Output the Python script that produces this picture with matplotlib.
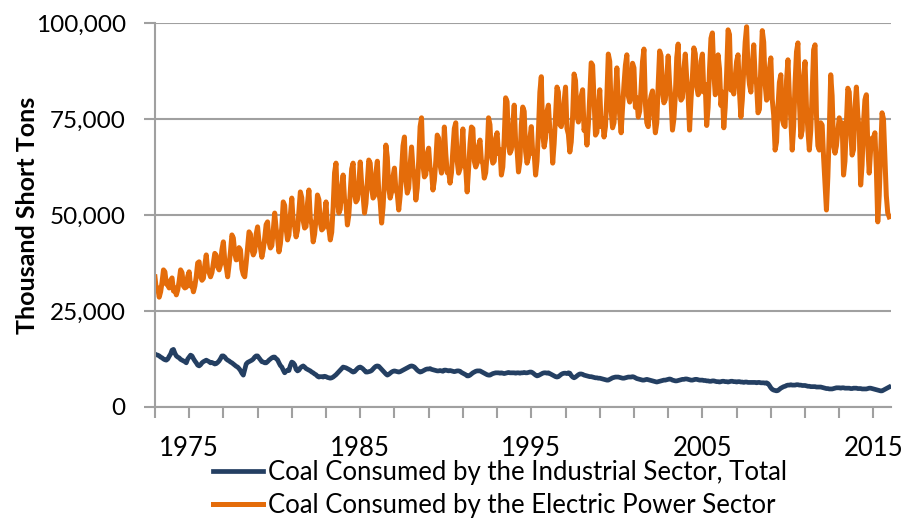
import matplotlib
matplotlib.use("Agg")
import matplotlib.pyplot as plt
from matplotlib.ticker import FuncFormatter

plt.rcParams['font.family'] = ['Lato', 'DejaVu Sans']

first_year = 1973
last_year = 2015

# monthly values, thousand short tons / 1000 (one row per year, Jan..Dec)
electric_power = [
    [33.9, 30.5, 31.0, 28.6, 30.0, 32.5, 35.7, 35.2, 32.0, 31.8, 31.0, 33.0],  # 1973
    [33.6, 30.2, 31.0, 29.2, 30.5, 32.8, 35.7, 35.0, 31.5, 31.0, 31.2, 34.0],
    [35.2, 31.5, 32.0, 30.0, 31.5, 34.0, 37.5, 37.8, 34.0, 33.0, 33.5, 37.0],
    [39.6, 35.5, 35.0, 33.9, 35.0, 37.5, 40.0, 39.5, 36.5, 35.7, 37.0, 41.0],
    [43.0, 38.0, 36.5, 33.9, 37.0, 40.5, 44.8, 44.0, 40.0, 38.3, 38.5, 41.5],
    [40.9, 36.0, 34.5, 33.9, 37.5, 41.5, 45.6, 45.0, 41.0, 39.6, 40.5, 45.0],
    [46.9, 43.0, 41.5, 39.0, 41.0, 44.0, 47.5, 48.2, 43.0, 41.4, 42.0, 46.0],
    [50.5, 46.5, 44.0, 40.4, 42.5, 47.0, 53.4, 52.5, 46.5, 43.5, 44.8, 50.0],  # 1980
    [54.4, 48.0, 47.0, 44.3, 46.0, 51.0, 56.0, 54.5, 48.5, 46.6, 47.0, 53.0],
    [56.5, 49.0, 47.5, 43.0, 45.0, 49.0, 55.2, 54.0, 48.0, 46.1, 46.5, 50.0],
    [53.4, 47.0, 46.5, 43.5, 45.5, 52.0, 61.0, 63.5, 54.0, 50.5, 51.5, 57.5],
    [60.4, 54.0, 53.0, 47.4, 50.0, 56.0, 62.0, 63.5, 55.5, 53.4, 54.0, 58.0],
    [63.8, 58.0, 55.0, 50.5, 53.0, 58.5, 64.3, 63.5, 57.0, 54.4, 55.0, 61.0],
    [64.0, 56.0, 53.5, 47.9, 52.0, 59.0, 68.2, 65.0, 57.0, 54.4, 56.0, 60.0],
    [62.2, 56.5, 55.5, 51.3, 55.0, 61.5, 68.0, 70.3, 59.0, 55.7, 57.0, 63.0],
    [67.7, 62.0, 60.0, 53.9, 57.0, 64.0, 73.0, 75.3, 63.0, 59.9, 60.5, 66.0],
    [67.4, 62.0, 61.5, 56.5, 59.0, 64.0, 70.8, 70.0, 63.0, 60.9, 63.0, 72.9],
    [66.0, 61.0, 61.5, 58.3, 61.0, 67.0, 72.5, 74.0, 64.0, 60.9, 62.0, 67.0],  # 1990
    [72.4, 63.0, 62.0, 56.0, 62.0, 68.5, 72.9, 72.5, 64.0, 62.5, 63.5, 68.0],
    [69.5, 64.0, 63.5, 59.6, 61.0, 66.0, 75.3, 73.5, 65.5, 63.5, 64.0, 70.0],
    [71.4, 66.0, 67.0, 60.4, 62.5, 70.0, 80.5, 79.5, 68.5, 66.1, 67.0, 73.5],
    [78.6, 69.0, 67.0, 61.2, 64.0, 73.5, 78.1, 77.0, 66.5, 63.5, 65.0, 70.0],
    [73.0, 66.0, 66.0, 60.4, 64.0, 72.0, 82.0, 86.0, 71.0, 67.7, 70.0, 77.0],
    [78.6, 72.0, 71.5, 63.5, 68.5, 76.0, 83.3, 82.0, 73.5, 73.0, 75.0, 79.5],
    [83.3, 72.5, 71.0, 66.4, 69.0, 76.0, 86.7, 85.0, 76.0, 74.2, 76.0, 81.0],
    [82.6, 72.0, 74.0, 68.2, 73.5, 81.0, 89.6, 89.0, 80.0, 70.8, 71.5, 77.0],
    [82.6, 73.0, 75.0, 70.3, 73.0, 81.0, 91.9, 90.0, 77.0, 72.7, 74.0, 81.0],
    [88.3, 80.5, 76.0, 71.4, 78.0, 84.0, 89.0, 91.7, 81.0, 79.4, 81.0, 89.5],  # 2000
    [88.3, 78.0, 80.5, 75.5, 77.0, 83.0, 90.0, 93.2, 79.0, 74.0, 73.0, 79.0],
    [81.0, 82.3, 76.0, 71.4, 74.0, 84.0, 92.7, 91.5, 82.0, 79.2, 80.0, 86.0],
    [91.4, 84.0, 80.0, 72.1, 75.0, 81.0, 91.0, 94.5, 82.0, 79.9, 80.5, 88.0],
    [91.9, 85.5, 81.0, 72.1, 80.0, 86.0, 93.5, 92.0, 83.5, 81.3, 82.0, 90.0],
    [91.9, 82.0, 84.0, 73.3, 78.0, 88.0, 96.0, 97.4, 87.0, 81.3, 82.0, 91.7],
    [88.0, 78.5, 82.0, 72.7, 78.0, 87.0, 98.2, 97.0, 82.5, 83.0, 81.5, 86.0],
    [90.0, 91.7, 82.0, 75.5, 80.0, 88.0, 95.0, 99.0, 88.0, 84.0, 82.0, 89.0],
    [94.3, 86.0, 84.0, 76.6, 77.5, 89.0, 98.0, 95.0, 84.0, 79.9, 80.5, 88.0],
    [90.9, 80.0, 76.0, 66.9, 69.0, 78.0, 84.5, 86.5, 75.0, 73.5, 73.0, 85.0],
    [90.4, 81.0, 75.0, 66.9, 73.0, 84.5, 92.5, 94.8, 80.0, 70.3, 72.0, 86.0],  # 2010
    [89.9, 78.0, 72.0, 66.9, 72.0, 82.0, 93.0, 94.3, 76.0, 68.0, 66.9, 74.0],
    [73.4, 65.0, 58.0, 51.3, 60.0, 72.0, 86.5, 81.0, 68.0, 66.1, 68.0, 72.0],
    [75.3, 72.0, 74.0, 60.4, 64.0, 74.0, 83.0, 82.0, 72.0, 65.6, 67.0, 78.0],
    [83.3, 76.0, 72.0, 57.8, 63.0, 74.0, 80.0, 81.3, 68.0, 60.9, 67.0, 70.0],
    [70.0, 71.4, 62.0, 48.2, 55.0, 66.0, 76.6, 75.0, 65.0, 55.0, 50.5, 49.5],  # 2015
]

industrial = [
    [13.8, 13.6, 13.5, 13.3, 13.0, 12.8, 12.5, 12.3, 12.2, 12.5, 13.2, 13.8],  # 1973
    [14.8, 15.0, 14.0, 13.3, 13.0, 12.8, 12.4, 12.2, 12.0, 11.8, 11.5, 12.5],
    [13.0, 13.5, 13.3, 12.6, 12.0, 11.5, 10.9, 10.7, 11.0, 11.5, 11.8, 12.0],
    [12.2, 12.0, 11.8, 11.5, 11.6, 11.4, 11.2, 11.3, 11.6, 12.0, 12.6, 13.3],
    [13.3, 13.0, 12.5, 12.2, 12.0, 11.7, 11.5, 11.2, 10.9, 10.6, 10.4, 10.0],
    [9.5, 8.8, 8.3, 9.8, 11.2, 11.6, 11.8, 12.0, 12.2, 12.5, 13.0, 13.3],
    [13.3, 12.8, 12.3, 11.8, 11.7, 11.5, 11.5, 11.8, 12.2, 12.5, 12.8, 13.0],
    [13.0, 12.6, 12.3, 11.5, 10.8, 10.4, 9.6, 8.9, 9.3, 9.6, 9.5, 10.8],  # 1980
    [11.7, 11.5, 11.0, 9.8, 9.4, 9.6, 10.2, 10.5, 10.7, 10.4, 10.0, 9.8],
    [9.6, 9.4, 9.1, 8.9, 8.6, 8.4, 8.0, 7.8, 7.9, 7.9, 7.8, 8.0],
    [7.9, 7.7, 7.6, 7.5, 7.6, 7.8, 8.1, 8.4, 8.8, 9.2, 9.6, 10.0],
    [10.4, 10.3, 10.2, 10.0, 9.8, 9.6, 9.3, 9.1, 9.2, 9.6, 10.0, 10.3],
    [10.4, 10.2, 9.9, 9.5, 9.1, 9.1, 9.2, 9.3, 9.5, 9.9, 10.3, 10.6],
    [10.7, 10.6, 10.2, 9.8, 9.4, 9.0, 8.6, 8.3, 8.5, 8.8, 9.1, 9.3],
    [9.4, 9.3, 9.2, 9.1, 9.2, 9.4, 9.6, 9.8, 10.0, 10.2, 10.4, 10.6],
    [10.7, 10.6, 10.4, 10.0, 9.6, 9.3, 9.1, 9.2, 9.4, 9.6, 9.8, 9.9],
    [9.9, 10.0, 9.8, 9.7, 9.6, 9.5, 9.4, 9.4, 9.5, 9.4, 9.3, 9.6],
    [9.6, 9.5, 9.4, 9.5, 9.4, 9.3, 9.2, 9.3, 9.4, 9.4, 9.3, 9.0],  # 1990
    [8.8, 8.6, 8.4, 8.1, 8.1, 8.3, 8.6, 8.9, 9.1, 9.3, 9.4, 9.4],
    [9.4, 9.2, 9.0, 8.8, 8.6, 8.4, 8.3, 8.3, 8.5, 8.7, 8.8, 8.9],
    [8.9, 8.9, 8.8, 8.9, 8.8, 8.7, 8.8, 8.9, 9.0, 8.9, 8.9, 8.9],
    [8.9, 8.8, 8.9, 8.9, 8.8, 8.9, 8.9, 9.0, 8.9, 8.9, 9.0, 9.1],
    [9.1, 8.9, 8.6, 8.3, 8.1, 8.2, 8.4, 8.6, 8.8, 8.9, 8.9, 8.8],
    [8.9, 8.7, 8.5, 8.3, 8.1, 7.9, 7.8, 7.9, 8.2, 8.5, 8.7, 8.8],
    [8.8, 8.7, 8.9, 8.8, 8.2, 7.8, 7.6, 7.8, 8.1, 8.4, 8.6, 8.6],
    [8.5, 8.3, 8.2, 8.1, 8.0, 7.9, 7.9, 7.8, 7.7, 7.6, 7.6, 7.5],
    [7.5, 7.4, 7.3, 7.2, 7.1, 7.0, 7.0, 7.2, 7.4, 7.6, 7.7, 7.8],
    [7.8, 7.8, 7.7, 7.6, 7.5, 7.5, 7.6, 7.7, 7.8, 7.8, 7.8, 7.9],  # 2000
    [7.8, 7.6, 7.4, 7.3, 7.2, 7.1, 7.0, 7.0, 7.1, 7.2, 7.1, 7.0],
    [6.9, 6.8, 6.7, 6.6, 6.5, 6.6, 6.7, 6.8, 6.9, 7.0, 7.0, 7.1],
    [7.2, 7.3, 7.2, 7.0, 6.9, 6.8, 6.8, 6.9, 7.0, 7.1, 7.2, 7.2],
    [7.3, 7.3, 7.2, 7.1, 7.0, 7.0, 7.1, 7.2, 7.2, 7.1, 7.0, 7.0],
    [7.0, 6.9, 6.9, 6.8, 6.8, 6.7, 6.7, 6.8, 6.8, 6.7, 6.6, 6.6],
    [6.5, 6.6, 6.7, 6.7, 6.6, 6.6, 6.5, 6.6, 6.7, 6.7, 6.6, 6.6],
    [6.5, 6.6, 6.6, 6.5, 6.5, 6.4, 6.5, 6.5, 6.4, 6.4, 6.4, 6.4],
    [6.4, 6.4, 6.3, 6.4, 6.4, 6.3, 6.3, 6.3, 6.2, 6.3, 6.1, 5.6],
    [5.0, 4.6, 4.4, 4.3, 4.2, 4.3, 4.6, 4.9, 5.1, 5.3, 5.4, 5.6],
    [5.7, 5.7, 5.8, 5.7, 5.7, 5.7, 5.8, 5.8, 5.7, 5.7, 5.6, 5.6],  # 2010
    [5.6, 5.5, 5.4, 5.4, 5.3, 5.3, 5.3, 5.3, 5.2, 5.2, 5.2, 5.2],
    [5.1, 5.0, 4.9, 4.8, 4.8, 4.7, 4.7, 4.7, 4.8, 4.9, 5.0, 5.0],
    [5.0, 4.9, 5.0, 5.0, 4.9, 4.9, 4.9, 4.9, 4.8, 4.8, 4.9, 4.9],
    [4.9, 4.8, 4.8, 4.8, 4.7, 4.7, 4.7, 4.7, 4.8, 4.9, 4.9, 4.8],
    [4.7, 4.6, 4.5, 4.4, 4.3, 4.2, 4.2, 4.4, 4.6, 4.8, 5.0, 5.2],  # 2015
]

labels = ["Coal Consumed by the Industrial Sector, Total",
          "Coal Consumed by the Electric Power Sector"]
year_labels = [1975, 1985, 1995, 2005, 2015]

# flatten to monthly series
t = []
elec = []
ind = []
for k in range(last_year - first_year + 1):
    for m in range(12):
        t.append(first_year + k + m / 12)
        elec.append(electric_power[k][m] * 1000)
        ind.append(industrial[k][m] * 1000)

fig = plt.figure(figsize=(9.06, 5.19), dpi=100)
ax = fig.add_axes([0.171, 0.2158, 0.812, 0.74])

ax.plot(t, ind, color='#243F62', lw=3.4, label=labels[0], solid_joinstyle='round')
ax.plot(t, elec, color='#E46C0A', lw=3.6, label=labels[1], solid_joinstyle='round')

ax.set_xlim(first_year, last_year + 1)
ax.set_ylim(0, 100000)
ax.set_yticks([0, 25000, 50000, 75000, 100000])
ax.yaxis.set_major_formatter(FuncFormatter(lambda v, p: f"{int(v):,}"))
ax.set_xticks(list(range(first_year, last_year + 1, 2)))
ax.xaxis.set_major_formatter(FuncFormatter(lambda v, p: str(int(round(v))) if int(round(v)) in year_labels else ""))

ax.grid(axis='y', color='#A0A0A0', lw=1.5)
ax.set_axisbelow(True)
for s in ['top', 'right']:
    ax.spines[s].set_visible(False)
for s in ['left', 'bottom']:
    ax.spines[s].set_color('#A0A0A0')
    ax.spines[s].set_linewidth(1.5)
ax.tick_params(axis='both', colors='#A0A0A0', length=8, width=1.5, labelcolor='black', labelsize=17.5)
ax.tick_params(axis='y', pad=13)
ax.tick_params(axis='x', labelsize=18.5, pad=13)

ax.set_ylabel("Thousand Short Tons", fontsize=18, fontweight='bold')
ax.yaxis.set_label_coords(-0.158, 0.5)

fig.legend(loc='upper left', bbox_to_anchor=(0.235, 0.114), frameon=False, fontsize=18.5,
           handlelength=1.95, handletextpad=0.2, labelspacing=0.33, borderpad=0, borderaxespad=0)

fig.savefig("out.png", dpi=100)
